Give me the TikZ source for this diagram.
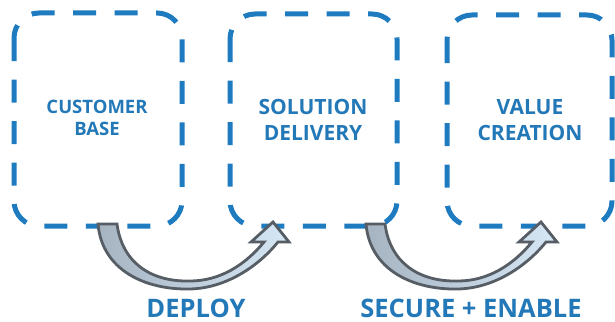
\documentclass[tikz,border=0pt]{standalone}
\usepackage{fontspec}
\setmainfont{Open Sans}
\definecolor{boxblue}{HTML}{1E7BC0}
\definecolor{txtblue}{HTML}{2378B8}
\definecolor{arrline}{HTML}{565D64}
\definecolor{arrdark}{HTML}{A6B4C2}
\definecolor{arrlight}{HTML}{D6E7F5}
\begin{document}
\begin{tikzpicture}[x=1pt,y=-1pt,
  stagebox/.style={draw=boxblue,line width=5pt,rounded corners=25pt,dash pattern=on 23pt off 18.5pt},
  lbl/.style={text=txtblue,font=\bfseries,align=center,inner sep=0pt},
  arr/.style={draw=arrline,line width=2.8pt,line join=miter,left color=arrdark,right color=arrlight}]
\useasboundingbox (0,0) rectangle (615,321);
\draw[stagebox] (14,13) rectangle (182,226);
\draw[stagebox] (230,14) rectangle (397,226);
\draw[stagebox] (447,15) rectangle (612,226);
\node[lbl,font=\bfseries\fontsize{18.5}{22}\selectfont] (t1) at (97,118) {CUSTOMER\\BASE};
\node[lbl,font=\bfseries\fontsize{21}{26}\selectfont] (t2) at (313,120) {SOLUTION\\DELIVERY};
\node[lbl,font=\bfseries\fontsize{21}{26}\selectfont] (t3) at (530,120) {VALUE\\CREATION};
\node[lbl,anchor=base,text depth=0pt,font=\bfseries\fontsize{25.5}{28}\selectfont] (d1) at (196,317.5) {DEPLOY};
\node[lbl,anchor=base,text depth=0pt,font=\bfseries\fontsize{25.5}{28}\selectfont] (d2) at (471,317.5) {SECURE + ENABLE};
\foreach \dx in {0,268}{
\begin{scope}[xshift=\dx]
\path[arr] (98,224) .. controls (102,270) and (145,290) .. (190,289)
  .. controls (230,288) and (262,262) .. (278,242)
  -- (289,242) -- (273,222) -- (251,242) -- (264,242)
  .. controls (245,265) and (220,281) .. (190,281)
  .. controls (150,282) and (122,262) .. (117,224) -- cycle;
\end{scope}}
\end{tikzpicture}
\end{document}
